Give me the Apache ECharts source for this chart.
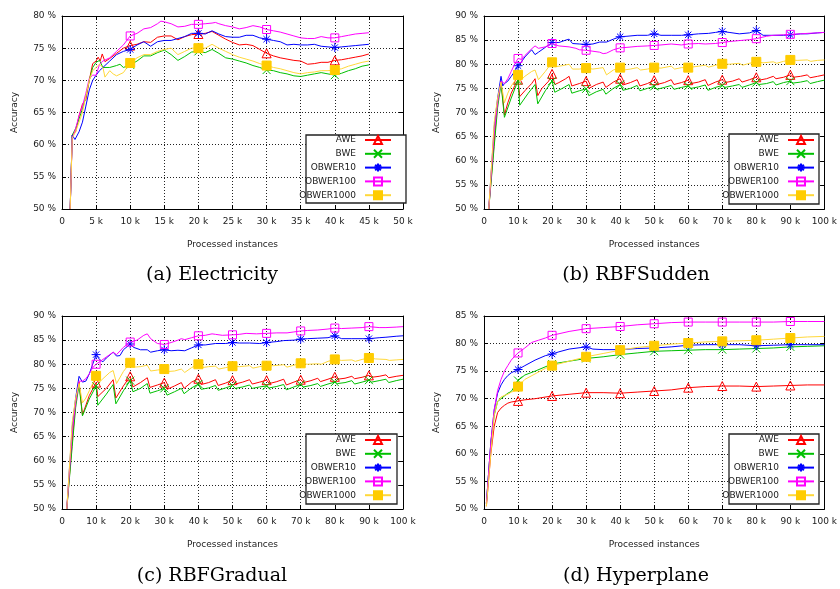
<!DOCTYPE html>
<html>
<head>
<meta charset="utf-8">
<script src="https://cdn.jsdelivr.net/npm/echarts@6/dist/echarts.min.js"></script>
<style>html,body{margin:0;padding:0;background:#fff}#c{width:840px;height:589px}</style>
</head>
<body>
<div id="c"></div>
<script>
// ---------- DATA (x in thousands of processed instances, y in % accuracy) ----------
const seriesNames = ['AWE', 'BWE', 'OBWER10', 'OBWER100', 'OBWER1000'];
const captions = ['(a) Electricity', '(b) RBFSudden', '(c) RBFGradual', '(d) Hyperplane'];
const elecMarkers = [10, 20, 30, 40];
const rbfMarkers = [10, 20, 30, 40, 50, 60, 70, 80, 90];
const elecXTicks = [0, 50, 5];     // min, max, step
const rbfXTicks = [0, 100, 10];
const elecYTicks = [50, 80, 5];
const rbfYTicks = [50, 90, 5];
const hypYTicks = [50, 85, 5];

// (a) Electricity
const elecAWE = [[1.2,50],[1.5,61.5],[2,62],[2.5,64.5],[3,66.3],[3.5,67],[4,70],[4.5,72.6],[5,73],[5.3,73.6],[5.6,73],[5.9,74.1],[6.3,72.9],[7,73.4],[8,74.2],[9,75],[10,75.4],[11,75.6],[12,76],[13,75.9],[14,76.7],[15,76.9],[16,76.9],[17,76.3],[18,76.8],[19,77.1],[20,77.2],[21,77.3],[22,77.6],[23,77],[24,76.4],[25,75.9],[26,75.5],[27,75.6],[28,75.4],[29,74.8],[30,74.2],[31,73.8],[32,73.5],[33,73.3],[34,73.1],[35,73],[36,72.5],[37,72.6],[38,72.8],[39,72.8],[40,73.1],[41,73.2],[42,73.4],[43,73.6],[44,73.8],[45,74.1]];
const elecBWE = [[1.2,50],[1.5,61.5],[2,62.5],[2.5,64],[3,65.6],[3.5,67.5],[4,70],[4.5,72],[5,72.8],[5.5,73.1],[6,72],[7,72],[8,72.3],[8.5,72.5],[9,72],[10,72.4],[11,73],[12,73.8],[13,73.8],[14,74.3],[15,74.7],[16,74],[17,73.1],[18,73.7],[19,74.4],[20,74.5],[21,74.3],[22,74.8],[23,74.2],[24,73.5],[25,73.3],[26,73],[27,72.7],[28,72.3],[29,72],[30,71.6],[31,71.5],[32,71.2],[33,71],[34,70.7],[35,70.6],[36,70.8],[37,71],[38,71.2],[39,71],[40,70.8],[41,71.1],[42,71.5],[43,71.8],[44,72.2],[45,72.4]];
const elecOB10 = [[1.2,50],[1.5,61.5],[1.9,60.8],[2.5,62],[3,63.5],[3.5,66],[4,68.5],[4.5,70],[5,70.8],[5.5,71.5],[6,72],[7,73],[8,74],[9,74.5],[10,74.8],[11,75.5],[12,76],[13,75.3],[14,76],[15,76.2],[16,76.2],[17,76.5],[18,76.8],[19,77.3],[20,77.3],[21,77.2],[22,77.7],[23,77.2],[24,76.8],[25,76.7],[26,76.7],[27,77],[28,77],[29,76.6],[30,76.4],[31,76.2],[32,76],[33,75.5],[34,75.6],[35,75.5],[36,75.5],[37,75.6],[38,75.3],[39,75.2],[40,75.1],[41,75.2],[42,75.3],[43,75.4],[44,75.5],[45,75.6]];
const elecOB100 = [[1.2,50],[1.5,61],[2,62.5],[2.5,64.5],[3,66],[3.5,68],[4,70.3],[4.5,70.8],[5,70.8],[5.5,72.5],[6,73],[7,73.5],[8,74.5],[9,75.5],[10,76.9],[11,77.3],[12,78],[13,78.2],[14,78.8],[14.5,79.2],[15,79.1],[16,78.8],[17,78.3],[18,78.4],[19,78.7],[20,78.7],[21,78.8],[22,78.9],[22.5,79],[23,78.8],[24,78.5],[25,78.3],[26,78],[27,78.2],[28,78.5],[29,78.3],[30,77.9],[31,77.7],[32,77.5],[33,77.2],[34,76.9],[35,76.6],[36,76.5],[37,76.5],[38,76.8],[39,76.6],[40,76.6],[41,76.8],[42,77],[43,77.2],[44,77.3],[45,77.4]];
const elecOB1000 = [[1.2,50],[1.5,61],[2,62],[2.5,63.5],[3,65],[3.5,67.5],[4,70],[4.5,71.5],[5,72],[5.5,72.5],[6,72],[6.3,70.5],[7,71.5],[7.5,71],[8,70.7],[9,71.2],[10,72.7],[11,73.5],[12,74],[13,74],[14,74.5],[15,74.8],[16,75],[17,74],[18,74.5],[19,75],[20,75],[21,75],[22,75.6],[23,75],[24,74.5],[25,74],[26,73.6],[27,73.3],[28,73],[29,72.6],[30,72.3],[31,72],[32,71.8],[33,71.5],[34,71.2],[35,71],[36,71.2],[37,71.3],[38,71.5],[39,71.5],[40,71.6],[41,71.8],[42,72.2],[43,72.5],[44,72.8],[45,73]];

// (b) RBFSudden
const sudAWE = [[1.4,50],[3,64],[4,72],[5,76.5],[6,69.5],[7,72],[8,74],[9,75.5],[10,76.8],[10.5,73.3],[12,74.5],[14,76],[15,77],[15.8,73.5],[17,75],[19,76.5],[20,78],[20.8,75.8],[22,76.2],[24,77],[25,77.5],[25.8,75.5],[28,76],[30,76.5],[30.8,75],[33,75.8],[35,76.3],[35.8,75.2],[38,76.3],[40,77],[40.8,75.7],[43,76.2],[45,76.8],[45.8,75.5],[48,76],[50,76.7],[50.8,75.8],[53,76.2],[55,76.8],[55.8,75.8],[58,76.2],[60,76.7],[60.8,76],[63,76.3],[65,76.8],[65.8,75.6],[68,76.3],[70,76.8],[70.8,76.2],[73,76.5],[75,77],[75.8,76.3],[78,76.8],[80,77.3],[80.8,76.7],[83,77],[85,77.5],[85.8,77],[88,77.3],[90,77.8],[90.8,77.3],[93,77.5],[95,77.8],[95.8,77.2],[98,77.5],[100,77.8]];
const sudBWE = [[1.4,50],[3,63],[4,71],[5,76],[6,69],[8,73],[10,76.6],[10.5,71.5],[13,74],[15,75.8],[15.8,71.8],[18,74.5],[20,76.5],[20.8,74.2],[23,75],[25,75.8],[25.8,74],[28,74.5],[30,74.9],[30.8,73.5],[33,74.3],[35,74.8],[35.8,73.8],[38,75],[40,75.8],[40.8,74.6],[43,75],[45,75.6],[45.8,74.5],[48,75],[50,75.4],[50.8,74.8],[53,75.2],[55,75.6],[55.8,74.8],[58,75.2],[60,75.5],[60.8,75],[63,75.3],[65,75.7],[65.8,74.6],[68,75.2],[70,75.6],[70.8,75.2],[73,75.5],[75,75.8],[75.8,75.2],[78,75.7],[80,76.2],[80.8,75.8],[83,76],[85,76.4],[85.8,75.7],[88,76.2],[90,76.5],[90.8,76.1],[93,76.3],[95,76.6],[95.8,76],[98,76.4],[100,76.7]];
const sudOB10 = [[1.4,50],[3,67],[4,73],[5,77.5],[5.5,75.5],[6,76],[7,76.5],[8,77.5],[9,78.5],[10,79.7],[11,80.5],[12,81.5],[14,83],[15,82],[16,82.5],[18,83.5],[20,84.5],[22,84.5],[24,85],[25,85.2],[26,84.3],[28,84.2],[30,84.1],[32,84.2],[34,84.6],[36,84.6],[38,85.2],[40,85.7],[42,85.8],[45,86],[48,86],[50,86.3],[52,86],[55,86],[58,86],[60,86.1],[63,86.3],[66,86.4],[68,86.6],[70,86.8],[72,86.6],[75,86.3],[78,86.5],[80,87],[82,86],[85,86],[88,86],[90,86.1],[93,86.3],[95,86.3],[98,86.5],[100,86.6]];
const sudOB100 = [[1.4,50],[3,66],[4,72],[5,76.5],[6,76],[7,77],[8,78.5],[9,80],[10,81.2],[11,81],[12,81.8],[14,83.2],[15,83.8],[16,83.3],[18,83.6],[20,84.3],[22,83.8],[25,83.6],[27,83.3],[28,83],[30,82.9],[32,82.7],[34,82.5],[35,82.2],[36,82.3],[38,83],[40,83.4],[42,83.5],[45,83.7],[48,83.8],[50,83.9],[52,84],[55,84.2],[58,84],[60,84.2],[63,84.3],[65,84.2],[68,84.3],[70,84.5],[72,84.7],[75,84.9],[78,85.1],[80,85.3],[83,85.8],[85,86],[88,86.1],[90,86.2],[93,86.3],[95,86.4],[98,86.5],[100,86.6]];
const sudOB1000 = [[1.4,50],[3,68],[4,73],[5,76.3],[6,72],[7,74],[8,75.5],[9,76.5],[10,77.8],[10.5,76.5],[12,77.5],[14,78.5],[15,78.8],[16,76.8],[18,78.5],[20,80.4],[21,79.5],[23,79.7],[25,80],[26,79],[28,79],[30,79.2],[32,79],[34,79.2],[35,79.3],[36,77.8],[38,78.8],[40,79.3],[41,78.8],[43,79],[45,79.3],[46,78.8],[48,79],[50,79.3],[52,79.2],[55,79.6],[56,79],[58,79.3],[60,79.3],[62,79.5],[65,79.8],[66,79.4],[68,79.8],[70,80.1],[72,80],[75,80.2],[76,79.8],[78,80.2],[80,80.5],[82,80.3],[85,80.5],[86,80.2],[88,80.6],[90,80.9],[92,80.8],[95,80.9],[96,80.6],[98,80.8],[100,80.9]];

// (c) RBFGradual
const graAWE = [[1.4,50],[3,64],[4,72],[5,76.3],[6,69.5],[8,73.5],[10,76.2],[10.5,73.3],[13,75],[15,76.8],[15.8,73],[18,75.5],[20,77.5],[20.8,75.3],[23,76.2],[25,77.2],[25.8,75.2],[28,75.7],[30,76.2],[30.8,74.8],[33,75.5],[35,76.2],[35.8,75],[38,76.3],[40,77],[40.8,75.8],[43,76.2],[45,76.8],[45.8,75.6],[48,76.1],[50,76.7],[50.8,75.9],[53,76.3],[55,76.8],[55.8,75.9],[58,76.3],[60,76.7],[60.8,76],[63,76.4],[65,76.9],[65.8,75.7],[68,76.3],[70,76.8],[70.8,76.2],[73,76.6],[75,77.1],[75.8,76.4],[78,76.9],[80,77.4],[80.8,76.9],[83,77.1],[85,77.5],[85.8,77],[88,77.3],[90,77.7],[90.8,77.3],[93,77.5],[95,77.8],[95.8,77.2],[98,77.5],[100,77.7]];
const graBWE = [[1.4,50],[3,63],[4,71],[5,75.8],[6,69.3],[8,72.8],[10,75.5],[10.5,71.5],[13,73.8],[15,75.8],[15.8,71.8],[18,74.5],[20,76.6],[20.8,74.3],[23,75],[25,76],[25.8,74],[28,74.5],[30,75],[30.8,73.6],[33,74.3],[35,75],[35.8,73.9],[38,75.1],[40,75.9],[40.8,74.8],[43,75.1],[45,75.6],[45.8,74.6],[48,75.1],[50,75.6],[50.8,75],[53,75.3],[55,75.7],[55.8,75],[58,75.3],[60,75.5],[60.8,75.1],[63,75.4],[65,75.8],[65.8,74.7],[68,75.3],[70,75.8],[70.8,75.3],[73,75.6],[75,76],[75.8,75.4],[78,75.9],[80,76.3],[80.8,76],[83,76.2],[85,76.6],[85.8,75.9],[88,76.3],[90,76.7],[90.8,76.3],[93,76.6],[95,76.9],[95.8,76.2],[98,76.6],[100,76.9]];
const graOB10 = [[1.4,50],[3,67],[4,73],[5,77.5],[6,76.3],[7,76.5],[8,78],[9,80],[10,82],[11,81],[12,80.5],[13,81.3],[15,82.5],[16,81.7],[17,81.8],[18,83],[20,84.2],[21,83.5],[23,83],[25,83],[26,82.5],[28,82.8],[30,83],[32,82.8],[34,82.9],[36,82.8],[38,83.4],[40,84],[42,84],[45,84.3],[48,84.3],[50,84.5],[52,84.4],[55,84.4],[58,84.3],[60,84.5],[63,84.7],[65,84.9],[68,85],[70,85.2],[72,85.3],[75,85.4],[78,85.5],[80,85.9],[82,85.3],[85,85.3],[88,85.3],[90,85.3],[93,85.5],[95,85.6],[98,85.8],[100,85.9]];
const graOB100 = [[1.4,50],[3,66],[4,72],[5,76.5],[6,76.5],[7,77],[8,78],[9,79.3],[10,80],[11,80.5],[12,81],[14,82],[15,82.5],[16,82],[18,83.5],[20,84.6],[22,85],[24,86],[25,86.3],[26,85.3],[28,84.3],[30,84.1],[32,84.5],[34,85],[35,85.3],[36,85.1],[38,85.5],[40,85.9],[42,86],[44,86.3],[45,86.2],[47,86],[50,86.1],[52,86.2],[54,86.4],[57,86.3],[60,86.4],[63,86.5],[66,86.5],[68,86.7],[70,86.9],[72,87],[75,87.1],[78,87.3],[80,87.5],[82,87.4],[85,87.5],[88,87.6],[90,87.8],[93,87.6],[95,87.6],[98,87.7],[100,87.8]];
const graOB1000 = [[1.4,50],[3,68],[4,73],[5,76],[6,72],[7,73],[8,74.5],[9,76],[10,77.6],[11,76.3],[12,77],[14,78.3],[15,78.7],[16,76],[18,78.5],[20,80.3],[21,79.4],[23,79.5],[25,79.8],[26,78.6],[28,78.8],[30,79],[31,78.5],[33,78.6],[35,79],[36,78.3],[38,79.3],[40,80],[41,79.3],[43,79.5],[45,79.6],[46,79],[48,79.3],[50,79.6],[52,79.5],[55,79.7],[56,79.2],[58,79.5],[60,79.7],[62,79.7],[65,79.9],[66,79.4],[68,79.8],[70,80.2],[72,80],[75,80.1],[76,80],[78,80.6],[80,81],[82,80.8],[85,80.9],[86,80.6],[88,81],[90,81.3],[92,81.1],[95,81],[96,80.8],[98,80.9],[100,81]];

// (d) Hyperplane
const hypAWE = [[0.7,50.5],[2,60],[3,65],[4,67.5],[5,68.3],[6,68.8],[7,69.2],[8,69.4],[10,69.6],[12,69.8],[15,70],[20,70.5],[25,70.8],[30,71.1],[35,71.1],[40,71],[45,71.2],[50,71.4],[55,71.6],[60,72],[65,72.2],[70,72.3],[75,72.3],[80,72.2],[85,72.3],[90,72.4],[95,72.5],[100,72.5]];
const hypBWE = [[0.7,51],[2,62],[3,67],[4,69.5],[5,70],[6,70.5],[7,71],[8,71.3],[9,72.3],[10,73.3],[12,74.3],[15,75],[20,76.3],[25,76.8],[30,77.3],[35,77.6],[40,78],[45,78.3],[50,78.6],[55,78.7],[60,78.8],[65,78.9],[70,78.9],[75,79],[80,79.1],[85,79.2],[90,79.4],[95,79.5],[100,79.6]];
const hypOB10 = [[0.7,51],[2,62],[3,68],[4,71],[5,72.5],[6,73.5],[7,74.2],[8,74.7],[10,75.3],[12,76],[15,77],[18,77.8],[20,78.1],[22,78.5],[25,79],[30,79.4],[32,79],[35,78.9],[40,78.9],[45,79.1],[50,79.2],[55,79.4],[60,79.7],[65,79.8],[70,79.8],[75,79.8],[80,79.6],[85,79.7],[90,79.8],[95,79.8],[100,79.8]];
const hypOB100 = [[0.7,51],[2,62],[3,68],[4,71.5],[5,73.5],[6,75],[7,76],[8,77],[9,77.7],[10,78.3],[12,79.2],[14,80.2],[16,80.6],[18,81],[20,81.5],[25,82.2],[30,82.7],[35,82.9],[40,83.1],[45,83.4],[50,83.6],[55,83.8],[60,83.9],[65,83.9],[70,83.9],[75,83.9],[80,83.9],[85,83.9],[90,84],[95,84],[100,84]];
const hypOB1000 = [[0.7,50.5],[2,60],[3,67],[4,69.5],[5,70.3],[6,70.6],[7,70.8],[8,71.2],[9,71.4],[10,72.2],[12,73.5],[15,74.5],[18,75.5],[20,76],[25,76.8],[30,77.6],[35,78.2],[40,78.8],[45,79.3],[50,79.6],[55,79.9],[60,80.1],[65,80.3],[70,80.4],[75,80.5],[80,80.6],[85,80.8],[90,81],[95,81.2],[100,81.3]];

// ---------- STYLE ----------
const PATH_X = 'path://M0 0L10 10M10 0L0 10';
const PATH_AST = 'path://M5 0L5 10M0 5L10 5M1.5 1.5L8.5 8.5M8.5 1.5L1.5 8.5';
const styles = [
  {line: '#ff0000', symbol: 'triangle', fill: 'rgba(255,255,255,0)', border: '#ff0000', size: 9},
  {line: '#00c000', symbol: PATH_X, fill: 'rgba(255,255,255,0)', border: '#00c000', size: 8},
  {line: '#0000ff', symbol: PATH_AST, fill: 'rgba(255,255,255,0)', border: '#0000ff', size: 9},
  {line: '#ff00ff', symbol: 'rect', fill: 'rgba(255,255,255,0)', border: '#ff00ff', size: 8},
  {line: '#ffd83a', symbol: 'rect', fill: '#ffcc00', border: '#ffcc00', size: 9}
];
const grids = [
  {left: 62, top: 16, width: 341, height: 193},
  {left: 484, top: 16, width: 342, height: 193},
  {left: 62, top: 316, width: 341, height: 193},
  {left: 484, top: 316, width: 342, height: 193}
];
const legendBoxes = [
  {x: 306, y: 135, w: 100, h: 68, right: 448, top: 135},
  {x: 729, y: 134, w: 90, h: 70, right: 25, top: 135},
  {x: 306, y: 434, w: 91, h: 70, right: 448, top: 435},
  {x: 729, y: 434, w: 90, h: 70, right: 25, top: 435}
];
const captionPos = [[212, 275], [636, 275], [212, 576], [636, 576]];

const panels = [
  {sets: [elecAWE, elecBWE, elecOB10, elecOB100, elecOB1000], markers: elecMarkers, xt: elecXTicks, yt: elecYTicks},
  {sets: [sudAWE, sudBWE, sudOB10, sudOB100, sudOB1000], markers: rbfMarkers, xt: rbfXTicks, yt: rbfYTicks},
  {sets: [graAWE, graBWE, graOB10, graOB100, graOB1000], markers: rbfMarkers, xt: rbfXTicks, yt: rbfYTicks},
  {sets: [hypAWE, hypBWE, hypOB10, hypOB100, hypOB1000], markers: rbfMarkers, xt: rbfXTicks, yt: hypYTicks}
];

const FONT = 'DejaVu Sans';
const TXT = '#1a1a1a';
const xAxes = [], yAxes = [], series = [], legends = [], graphics = [];

panels.forEach((p, gi) => {
  const base = {gridIndex: gi, type: 'value'};
  xAxes.push(Object.assign({}, base, {
    min: p.xt[0], max: p.xt[1], interval: p.xt[2], position: 'bottom',
    name: 'Processed instances', nameLocation: 'middle', nameGap: 31,
    nameTextStyle: {fontFamily: FONT, fontSize: 9, color: TXT},
    axisLine: {show: true, onZero: false, lineStyle: {color: '#000', width: 1}},
    axisTick: {show: true, inside: true, length: 4, lineStyle: {color: '#000'}},
    axisLabel: {fontFamily: FONT, fontSize: 9, color: TXT, margin: 8,
      formatter: v => v === 0 ? '0' : v + ' k'},
    splitLine: {show: true, lineStyle: {color: '#222', type: [1, 2], width: 1}}
  }));
  xAxes.push(Object.assign({}, base, {
    min: p.xt[0], max: p.xt[1], interval: p.xt[2], position: 'top',
    axisLine: {show: true, onZero: false, lineStyle: {color: '#000', width: 1}},
    axisTick: {show: true, inside: true, length: 4, lineStyle: {color: '#000'}},
    axisLabel: {show: false}, splitLine: {show: false}
  }));
  yAxes.push(Object.assign({}, base, {
    min: p.yt[0], max: p.yt[1], interval: p.yt[2], position: 'left',
    name: 'Accuracy', nameLocation: 'middle', nameGap: 43,
    nameTextStyle: {fontFamily: FONT, fontSize: 9, color: TXT},
    axisLine: {show: true, onZero: false, lineStyle: {color: '#000', width: 1}},
    axisTick: {show: true, inside: true, length: 4, lineStyle: {color: '#000'}},
    axisLabel: {fontFamily: FONT, fontSize: 9, color: TXT, margin: 6,
      formatter: v => v + ' %'},
    splitLine: {show: true, lineStyle: {color: '#222', type: [1, 2], width: 1}}
  }));
  yAxes.push(Object.assign({}, base, {
    min: p.yt[0], max: p.yt[1], interval: p.yt[2], position: 'right',
    axisLine: {show: true, onZero: false, lineStyle: {color: '#000', width: 1}},
    axisTick: {show: true, inside: true, length: 4, lineStyle: {color: '#000'}},
    axisLabel: {show: false}, splitLine: {show: false}
  }));

  p.sets.forEach((arr, si) => {
    const st = styles[si];
    series.push({
      type: 'line', name: seriesNames[si],
      xAxisIndex: gi * 2, yAxisIndex: gi * 2,
      data: arr.map(d => ({value: d, symbol: p.markers.includes(d[0]) ? st.symbol : 'none'})),
      symbol: st.symbol, symbolSize: st.size,
      showSymbol: true, showAllSymbol: true,
      lineStyle: {color: st.line, width: 1},
      itemStyle: {color: st.fill, borderColor: st.border, borderWidth: 1},
      emphasis: {disabled: true},
      z: 2 + si * 0.01
    });
  });

  const lb = legendBoxes[gi];
  graphics.push({type: 'rect', z: 3, shape: {x: lb.x, y: lb.y, width: lb.w, height: lb.h},
    style: {fill: '#fff', stroke: '#222', lineWidth: 1.3}});
  legends.push({
    data: seriesNames, orient: 'vertical', align: 'right', selectedMode: false,
    right: lb.right, top: lb.top, padding: 0, itemWidth: 26, itemHeight: 10, itemGap: 3.8,
    textStyle: {fontFamily: FONT, fontSize: 9, color: TXT, padding: [0, 4, 0, 0]}, z: 4
  });
  graphics.push({type: 'text', z: 5, x: captionPos[gi][0], y: captionPos[gi][1],
    style: {text: captions[gi], align: 'center', verticalAlign: 'middle',
      font: '19px "DejaVu Serif"', fill: '#000'}});
});

const chart = echarts.init(document.getElementById('c'), null, {renderer: 'canvas'});
chart.setOption({
  animation: false,
  backgroundColor: '#fff',
  grid: grids,
  xAxis: xAxes,
  yAxis: yAxes,
  legend: legends,
  series: series,
  graphic: graphics
});
</script>
</body>
</html>
